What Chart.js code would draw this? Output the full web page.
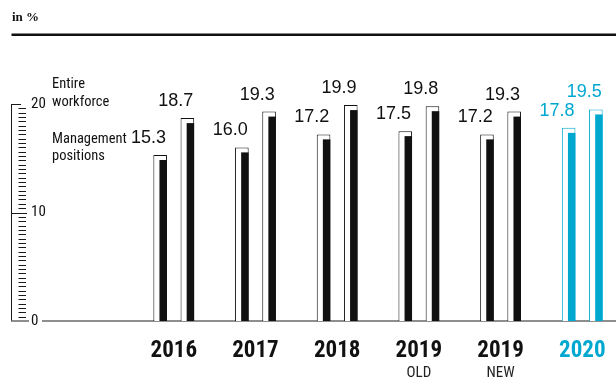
<!DOCTYPE html>
<html>
<head>
<meta charset="utf-8">
<script src="https://cdn.jsdelivr.net/npm/chart.js@4/dist/chart.umd.min.js"></script>
<style>
html,body{margin:0;padding:0;background:#ffffff;}
#wrap{width:616px;height:385px;}
</style>
</head>
<body>
<div id="wrap"><canvas id="c" width="616" height="385"></canvas></div>
<script>
// ---- data ----
const categories = ['2016', '2017', '2018', '2019', '2019', '2020'];
const subLabels = ['', '', '', 'OLD', 'NEW', ''];
const managementPositions = [15.3, 16.0, 17.2, 17.5, 17.2, 17.8];
const entireWorkforce = [18.7, 19.3, 19.9, 19.8, 19.3, 19.5];
const seriesLegend = [['Management', 'positions'], ['Entire', 'workforce']];
const yTickValues = [0, 10, 20];
const unitLabel = 'in %';
const highlightIndex = 5;

// ---- styling ----
const CYAN = '#00a8d0';
const INK = '#111111';
const colorAt = i => (i === highlightIndex ? CYAN : INK);
const NARROW = '"Liberation Sans Narrow", "Arial Narrow", "Roboto Condensed", "DejaVu Sans Condensed", sans-serif';
const REGULAR = '"Liberation Sans", Arial, Helvetica, sans-serif';
const yMax = 20;
const rulerStep = 0.4;
const xMin = -1.98, xMax = 5.413;

const toPoints = arr => arr.map((v, i) => ({ x: i, y: v }));
const setTicks = axis => { axis.ticks = categories.map((_, i) => ({ value: i })); };

const decor = {
  id: 'decor',
  beforeDatasetsDraw(chart) {
    const { ctx, chartArea, scales: { y } } = chart;
    const L = chartArea.left;
    const x0 = L - 0.5;
    const yTop = y.getPixelForValue(yMax);
    const yBot = y.getPixelForValue(0);
    ctx.save();
    ctx.strokeStyle = '#1a1a1a';
    ctx.lineWidth = 1;
    ctx.beginPath();
    ctx.moveTo(x0, yTop); ctx.lineTo(x0, yBot);
    const n = Math.round(yMax / rulerStep);
    for (let k = 1; k < n; k++) {
      const v = k * rulerStep;
      const py = Math.round(y.getPixelForValue(v)) + 0.5;
      if (Math.abs(v - 10) < 1e-6) {
        ctx.moveTo(x0, py); ctx.lineTo(L + 15, py);
      } else {
        ctx.moveTo(L + 6.5, py); ctx.lineTo(L + 14, py);
      }
    }
    const pt = Math.round(yTop) + 0.5;
    ctx.moveTo(x0 - 0.5, pt); ctx.lineTo(L + 9, pt);
    ctx.stroke();
    // baseline
    ctx.strokeStyle = '#6a6a6a';
    ctx.lineWidth = 1.5;
    ctx.beginPath();
    ctx.moveTo(x0 - 0.5, yBot); ctx.lineTo(L + 17, yBot);
    ctx.moveTo(L + 30, yBot); ctx.lineTo(chartArea.right, yBot);
    ctx.stroke();
    ctx.restore();
  },
  afterDatasetsDraw(chart) {
    const { ctx, chartArea } = chart;
    ctx.save();
    chart.data.datasets.forEach((ds, di) => {
      const meta = chart.getDatasetMeta(di);
      meta.data.forEach((bar, i) => {
        const p = bar.getProps(['x', 'y', 'width', 'base'], true);
        const right = p.x + p.width / 2;
        ctx.fillStyle = colorAt(i);
        ctx.fillRect(right - 7.5, p.y + 5, 7.5, p.base - p.y - 5);
        // value label
        ctx.font = '18px ' + REGULAR;
        ctx.textAlign = 'right';
        ctx.textBaseline = 'alphabetic';
        ctx.fillText(ds.data[i].y.toFixed(1), right - 1, p.y - 12);
        // series legend beside first group
        if (i === 0) {
          const lines = seriesLegend[di];
          const base = p.y - 12;
          const ys = di === 0 ? [base, base + 17] : [base - 18, base];
          ctx.font = '14.5px ' + NARROW;
          ctx.textAlign = 'left';
          ctx.fillStyle = INK;
          lines.forEach((t, k) => ctx.fillText(t, chartArea.left + 40, ys[k]));
        }
      });
    });
    ctx.restore();
  },
  afterDraw(chart) {
    const { ctx, chartArea } = chart;
    ctx.save();
    ctx.fillStyle = '#111';
    ctx.font = 'bold 13px "Liberation Serif", "DejaVu Serif", serif';
    ctx.textAlign = 'left';
    ctx.textBaseline = 'alphabetic';
    ctx.fillText(unitLabel, chartArea.left, 21);
    ctx.fillRect(chartArea.left - 0.5, 33.5, chart.width - chartArea.left + 0.5, 2.5);
    ctx.restore();
  }
};

const barStyle = {
  backgroundColor: '#ffffff',
  borderColor: ctx => colorAt(ctx.dataIndex),
  borderWidth: { left: 1, top: 1, right: 1, bottom: 0 },
  borderSkipped: false,
  categoryPercentage: 0.666,
  barPercentage: 0.5
};

new Chart(document.getElementById('c'), {
  type: 'bar',
  data: {
    datasets: [
      Object.assign({ label: 'Management positions', data: toPoints(managementPositions) }, barStyle),
      Object.assign({ label: 'Entire workforce', data: toPoints(entireWorkforce) }, barStyle)
    ]
  },
  plugins: [decor],
  options: {
    responsive: false,
    devicePixelRatio: 1,
    animation: false,
    events: [],
    layout: { padding: { top: 104, left: 12, right: 0, bottom: 3 } },
    plugins: { legend: { display: false }, tooltip: { enabled: false }, title: { display: false } },
    scales: {
      x: {
        type: 'linear', axis: 'x', position: 'bottom', offset: false,
        min: xMin, max: xMax,
        afterBuildTicks: setTicks,
        afterFit: axis => { axis.height = 43; axis.paddingLeft = 0; axis.paddingRight = 0; },
        grid: { display: false, drawTicks: false },
        border: { display: false },
        ticks: {
          autoSkip: false, maxRotation: 0, padding: 16,
          callback: v => categories[v],
          color: c => colorAt(c.index),
          font: { family: NARROW, size: 23, weight: 'bold', lineHeight: 1.2 }
        }
      },
      x2: {
        type: 'linear', axis: 'x', position: 'bottom', offset: false,
        min: xMin, max: xMax,
        afterBuildTicks: setTicks,
        afterFit: axis => { axis.height = 18; axis.paddingLeft = 0; axis.paddingRight = 0; },
        grid: { display: false, drawTicks: false },
        border: { display: false },
        ticks: {
          autoSkip: false, maxRotation: 0, padding: 0,
          callback: v => subLabels[v],
          color: '#222',
          font: { family: NARROW, size: 15, lineHeight: 1.2 }
        }
      },
      y: {
        type: 'linear', position: 'left', min: 0, max: yMax,
        afterBuildTicks: axis => { axis.ticks = yTickValues.map(v => ({ value: v })); },
        afterFit: axis => { axis.width = 0; axis.paddingTop = 0; axis.paddingBottom = 0; },
        grid: { display: false, drawTicks: false },
        border: { display: false },
        ticks: {
          mirror: true, padding: 19, color: '#111',
          font: { family: NARROW, size: 15 }
        }
      }
    }
  }
});
</script>
</body>
</html>
